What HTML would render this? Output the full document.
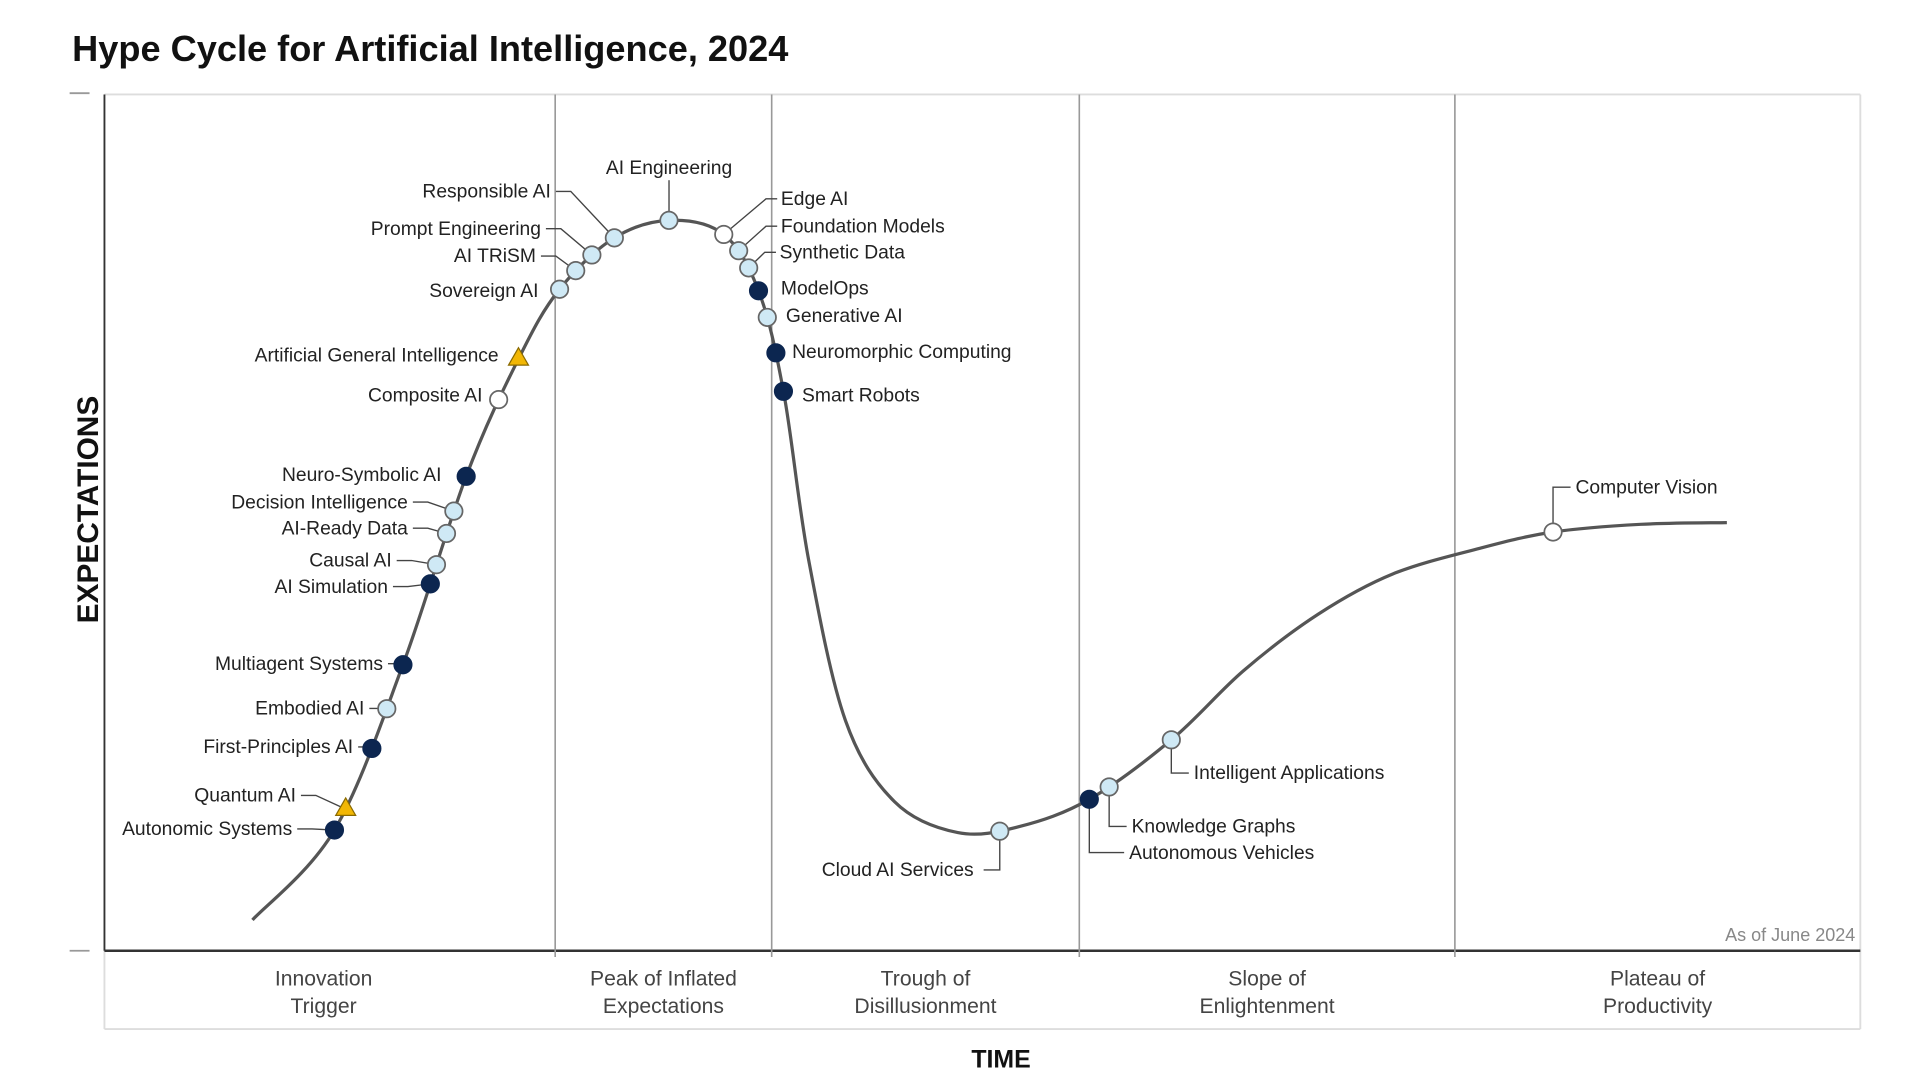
<!DOCTYPE html>
<html><head><meta charset="utf-8"><title>Hype Cycle for Artificial Intelligence, 2024</title>
<style>
html,body{margin:0;padding:0;background:#fff;}
svg{display:block;}
text{font-family:"Liberation Sans",sans-serif;}
</style></head>
<body>
<svg id="chart" width="1920" height="1080" viewBox="0 0 1544 869" preserveAspectRatio="none" xmlns="http://www.w3.org/2000/svg">
  <text x="58" y="49" font-size="29" font-weight="bold" fill="#111" textLength="576" lengthAdjust="spacingAndGlyphs">Hype Cycle for Artificial Intelligence, 2024</text>
  <g>
    <line x1="84" y1="76" x2="1496" y2="76" stroke="#ddd" stroke-width="1.5"/>
    <line x1="1496" y1="76" x2="1496" y2="828" stroke="#ddd" stroke-width="1.5"/>
    <line x1="84" y1="828" x2="1496" y2="828" stroke="#ddd" stroke-width="1.5"/>
    <line x1="84" y1="765" x2="84" y2="828" stroke="#ddd" stroke-width="1.5"/>
    <line x1="84" y1="76" x2="84" y2="765" stroke="#333" stroke-width="1.5"/>
    <line x1="84" y1="765" x2="1496" y2="765" stroke="#333" stroke-width="2"/>
    <line x1="56" y1="75" x2="72" y2="75" stroke="#999" stroke-width="1.5"/>
    <line x1="56" y1="765" x2="72" y2="765" stroke="#999" stroke-width="1.5"/>
  </g>
  <g id="phases"></g>
  <text transform="translate(79,410) rotate(-90)" text-anchor="middle" font-size="24" font-weight="bold" fill="#111">EXPECTATIONS</text>
  <text x="805" y="859" text-anchor="middle" font-size="20" font-weight="bold" fill="#111">TIME</text>
  <text x="1492" y="757" text-anchor="end" font-size="14.5" fill="#888">As of June 2024</text>
  <path id="curve" fill="none" stroke="#555" stroke-width="2.6"/>
  <g id="leaders"></g>
  <g id="marks"></g>
  <g id="labels"></g>
</svg>
<script>
// ---- Data (time 0..100, expectations 0..100) ----
const curveTime = [8.43,13.1,17.0,20.6,23.6,25.9,29.0,32.2,35.3,37.3,38.7,40.1,42.2,45.0,48.6,52.1,56.1,60.8,64.87,69.12,73.37,78.33,82.5,87.5,92.4];
const curveExp  = [3.6,14.1,33.4,55.4,69.2,77.2,83.2,85.3,83.6,76.8,65.0,45.7,26.9,17.4,13.8,14.5,17.7,24.7,32.7,39.3,44.0,47.0,48.9,49.8,50.0];
const phaseNames = ["Innovation\nTrigger","Peak of Inflated\nExpectations","Trough of\nDisillusionment","Slope of\nEnlightenment","Plateau of\nProductivity"];
const phaseBounds = [0,25.67,38.0,55.52,76.91,100];
const techNames = ["Autonomic Systems","Quantum AI","First-Principles AI","Embodied AI","Multiagent Systems","AI Simulation","Causal AI","AI-Ready Data","Decision Intelligence","Neuro-Symbolic AI","Composite AI","Artificial General Intelligence","Sovereign AI","AI TRiSM","Prompt Engineering","Responsible AI","AI Engineering","Edge AI","Foundation Models","Synthetic Data","ModelOps","Generative AI","Neuromorphic Computing","Smart Robots","Cloud AI Services","Autonomous Vehicles","Knowledge Graphs","Intelligent Applications","Computer Vision"];
const techTime = [13.1,13.74,15.23,16.08,17.0,18.56,18.91,19.48,19.9,20.6,22.45,23.58,25.92,26.84,27.76,29.04,32.15,35.27,36.12,36.69,37.25,37.75,38.24,38.67,50.99,56.09,57.22,60.76,82.5];
const techType = ["dark","tri","dark","light","dark","dark","light","light","light","dark","white","tri","light","light","light","light","light","white","light","light","dark","light","dark","dark","light","dark","light","light","white"];

// ---- Layout (label placement, not data) ----
const labelLayout = {
 "Autonomic Systems":{side:"L",x:235,y:667},
 "Quantum AI":{side:"L",x:238,y:640},
 "First-Principles AI":{side:"L",x:284,y:601},
 "Embodied AI":{side:"L",x:293,y:570},
 "Multiagent Systems":{side:"L",x:308,y:534},
 "AI Simulation":{side:"L",x:312,y:472},
 "Causal AI":{side:"L",x:315,y:451},
 "AI-Ready Data":{side:"L",x:328,y:425},
 "Decision Intelligence":{side:"L",x:328,y:404},
 "Neuro-Symbolic AI":{side:"L",x:355,y:382,noLead:true},
 "Composite AI":{side:"L",x:388,y:318,noLead:true},
 "Artificial General Intelligence":{side:"L",x:401,y:286,noLead:true},
 "Sovereign AI":{side:"L",x:433,y:234,noLead:true},
 "AI TRiSM":{side:"L",x:431,y:206},
 "Prompt Engineering":{side:"L",x:435,y:184},
 "Responsible AI":{side:"L",x:443,y:154},
 "AI Engineering":{side:"T",x:538,y:135},
 "Edge AI":{side:"R",x:628,y:160},
 "Foundation Models":{side:"R",x:628,y:182},
 "Synthetic Data":{side:"R",x:627,y:203},
 "ModelOps":{side:"R",x:628,y:232,noLead:true},
 "Generative AI":{side:"R",x:632,y:254,noLead:true},
 "Neuromorphic Computing":{side:"R",x:637,y:283,noLead:true},
 "Smart Robots":{side:"R",x:645,y:318,noLead:true},
 "Cloud AI Services":{side:"BL",x:783,y:700},
 "Autonomous Vehicles":{side:"BR",x:908,y:686},
 "Knowledge Graphs":{side:"BR",x:910,y:665},
 "Intelligent Applications":{side:"BR",x:960,y:622},
 "Computer Vision":{side:"TR",x:1267,y:392}
};

const X0=84,X1=1496,Y0=765,Y1=76;
function xScale(t){return X0+t*(X1-X0)/100;}
function yScale(e){return Y0-e*(Y0-Y1)/100;}
const NS="http://www.w3.org/2000/svg";
function mk(tag,attrs,parent){const el=document.createElementNS(NS,tag);for(const k in attrs)el.setAttribute(k,attrs[k]);parent.appendChild(el);return el;}

// phases
const ph=document.getElementById('phases');
for(let i=0;i<phaseNames.length;i++){
  const a=xScale(phaseBounds[i]),b=xScale(phaseBounds[i+1]);
  if(i>0){
    const ln=mk('line',{x1:a,y1:76,x2:a,y2:770,stroke:'#999','stroke-width':1.3},ph);
    
    
  }
  const cx=(a+b)/2-(i===0?5:0);
  const lines=phaseNames[i].split("\n");
  const t=mk('text',{x:cx,y:793,'text-anchor':'middle','font-size':17,fill:'#444'},ph);
  
  
  lines.forEach((s,j)=>{const ts=mk('tspan',{x:cx,dy:j?22:0},t);ts.textContent=s;});
}

// curve via Catmull-Rom
const P=curveTime.map((t,i)=>[xScale(t),yScale(curveExp[i])]);
let d=`M${P[0][0]},${P[0][1]}`;const dense=[P[0]];
for(let i=0;i<P.length-1;i++){
  const p0=P[Math.max(0,i-1)],p1=P[i],p2=P[i+1],p3=P[Math.min(P.length-1,i+2)];
  const c1=[p1[0]+(p2[0]-p0[0])/6,p1[1]+(p2[1]-p0[1])/6];
  const c2=[p2[0]-(p3[0]-p1[0])/6,p2[1]-(p3[1]-p1[1])/6];
  d+=` C${c1[0]},${c1[1]} ${c2[0]},${c2[1]} ${p2[0]},${p2[1]}`;
  for(let s=1;s<=40;s++){const u=s/40,v=1-u;
    dense.push([v*v*v*p1[0]+3*v*v*u*c1[0]+3*v*u*u*c2[0]+u*u*u*p2[0],
                v*v*v*p1[1]+3*v*v*u*c1[1]+3*v*u*u*c2[1]+u*u*u*p2[1]]);}
}
document.getElementById('curve').setAttribute('d',d);
function yAt(x){
  for(let i=0;i<dense.length-1;i++){const a=dense[i],b=dense[i+1];
    if((x>=a[0]&&x<=b[0])||(x<=a[0]&&x>=b[0])){const u=b[0]===a[0]?0:(x-a[0])/(b[0]-a[0]);return a[1]+u*(b[1]-a[1]);}}
  return dense[dense.length-1][1];
}

const gL=document.getElementById('leaders'),gM=document.getElementById('marks'),gT=document.getElementById('labels');
techNames.forEach((name,i)=>{
  const px=xScale(techTime[i]),py=yAt(px);const L=labelLayout[name];const slug=name.toLowerCase().replace(/[^a-z0-9]+/g,'-');
  if(L&&!L.noLead){
    let pts;
    if(L.side==='L')pts=[[L.x+4,L.y],[L.x+16,L.y],[px,py]];
    else if(L.side==='R')pts=[[px,py],[L.x-12,L.y],[L.x-3,L.y]];
    else if(L.side==='T')pts=[[L.x,L.y+10],[L.x,py]];
    else if(L.side==='BL')pts=[[L.x+8,L.y],[px,L.y],[px,py]];
    else if(L.side==='BR')pts=[[px,py],[px,L.y],[L.x-4,L.y]];
    else pts=[[px,py],[px,L.y],[L.x-4,L.y]];
    const pl=mk('polyline',{points:pts.map(p=>p.join(',')).join(' '),fill:'none',stroke:'#444','stroke-width':1.1},gL);
    
    
  }
  let m;const ty=techType[i];
  if(ty==='tri'){m=mk('polygon',{points:`${px},${py-9} ${px-8},${py+5} ${px+8},${py+5}`,fill:'#f2b705',stroke:'#8a6a00','stroke-width':1},gM);}
  else{const fill=ty==='dark'?'#0c2650':ty==='light'?'#cfe9f5':'#fff';const st=ty==='dark'?'#0c2650':'#666';
    m=mk('circle',{cx:px,cy:py,r:7,fill:fill,stroke:st,'stroke-width':1.4},gM);}
  
  
  if(L){
    let anchor='start',tx=L.x;
    if(L.side==='L'||L.side==='BL')anchor='end';
    if(L.side==='T')anchor='middle';
    const t=mk('text',{x:tx,y:L.y+5,'text-anchor':anchor,'font-size':15.5,fill:'#222'},gT);
    t.textContent=name;
    
    
  }
});
</script>
</body></html>
